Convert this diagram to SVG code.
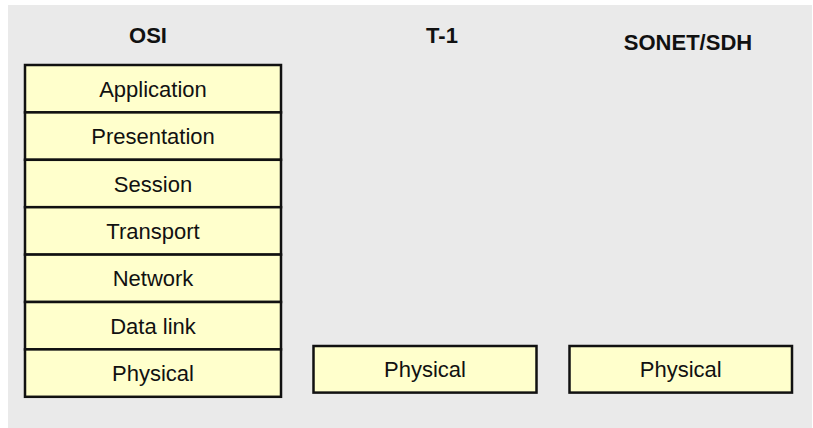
<svg xmlns="http://www.w3.org/2000/svg" width="813" height="428" viewBox="0 0 813 428">
  <style>
    .panel { fill: #eaeaea; }
    .layer rect { fill: #ffffcc; stroke: #111; stroke-width: 2.5; }
    .layer text { font-family: "Liberation Sans", Arial, sans-serif; font-size: 22px; fill: #111; text-anchor: middle; }
    .title { font-family: "Liberation Sans", Arial, sans-serif; font-size: 22px; font-weight: bold; fill: #111; text-anchor: middle; }
  </style>
  <rect x="0" y="0" width="813" height="428" fill="#ffffff"/>
  <rect class="panel" x="8" y="5" width="804" height="423"/>

  <!-- stack headings -->
  <text class="title" x="148" y="43">OSI</text>
  <text class="title" x="442" y="43">T-1</text>
  <text class="title" x="688" y="50">SONET/SDH</text>

  <!-- OSI seven-layer stack -->
  <g id="osi-application" class="layer"><rect x="25" y="65" width="256" height="47.4"/><text x="153" y="96.7">Application</text></g>
  <g id="osi-presentation" class="layer"><rect x="25" y="112.4" width="256" height="47.4"/><text x="153" y="144.1">Presentation</text></g>
  <g id="osi-session" class="layer"><rect x="25" y="159.8" width="256" height="47.4"/><text x="153" y="191.5">Session</text></g>
  <g id="osi-transport" class="layer"><rect x="25" y="207.2" width="256" height="47.4"/><text x="153" y="238.9">Transport</text></g>
  <g id="osi-network" class="layer"><rect x="25" y="254.6" width="256" height="47.4"/><text x="153" y="286.3">Network</text></g>
  <g id="osi-datalink" class="layer"><rect x="25" y="302" width="256" height="47.4"/><text x="153" y="333.7">Data link</text></g>
  <g id="osi-physical" class="layer"><rect x="25" y="349.4" width="256" height="47.4"/><text x="153" y="381.1">Physical</text></g>

  <!-- T-1 physical layer -->
  <g id="t1-physical" class="layer"><rect x="313.5" y="346" width="223" height="46.6"/><text x="425" y="377.3">Physical</text></g>

  <!-- SONET/SDH physical layer -->
  <g id="sonet-physical" class="layer"><rect x="569.5" y="346" width="222.5" height="46.6"/><text x="680.7" y="377.3">Physical</text></g>

  <g id="connectors"></g>
</svg>
